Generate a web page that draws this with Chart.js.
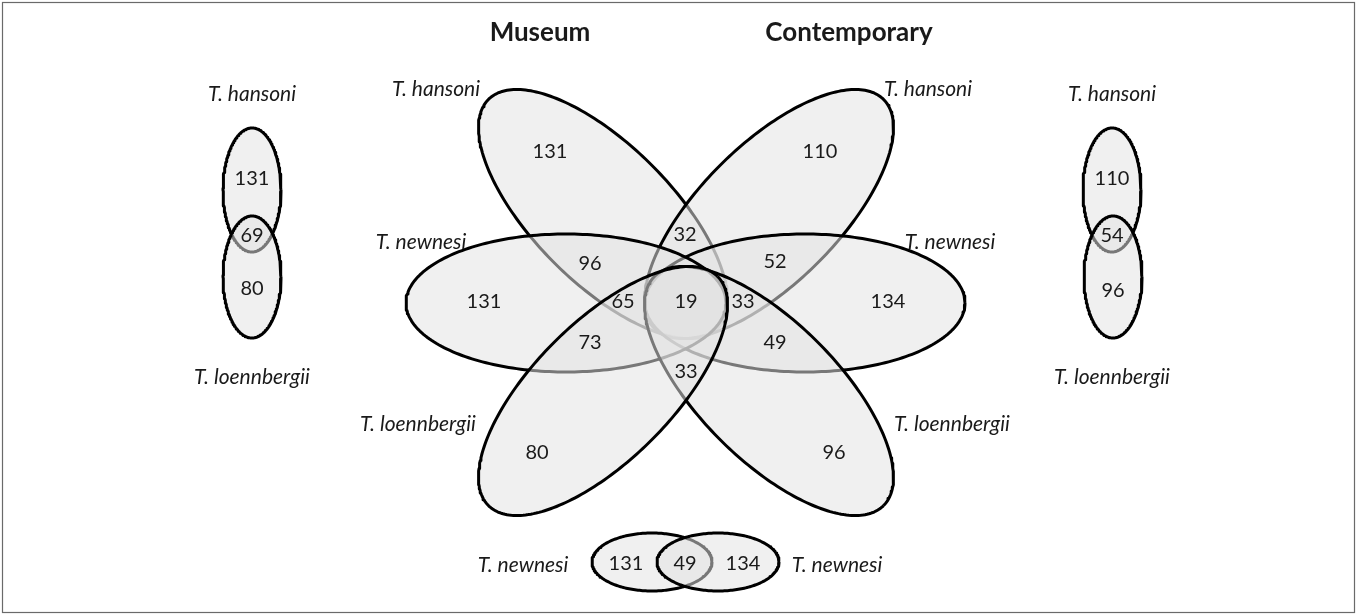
<!DOCTYPE html>
<html>
<head>
<meta charset="utf-8">
<script src="https://cdn.jsdelivr.net/npm/chart.js"></script>
<style>
  html, body { margin: 0; padding: 0; background: #ffffff; }
  #wrap { width: 1357px; height: 615px; }
</style>
</head>
<body>
<div id="wrap"><canvas id="c" width="1357" height="615"></canvas></div>
<script>
// ---------------- DATA ----------------
const groupTitles = ['Museum', 'Contemporary'];
const speciesNames = ['T. hansoni', 'T. newnesi', 'T. loennbergii'];

// central six-set diagram: exclusive counts per region
const museumOnly = [131, 131, 80];        // hansoni, newnesi, loennbergii (Museum)
const contemporaryOnly = [110, 134, 96];  // hansoni, newnesi, loennbergii (Contemporary)
const centralShared = [96, 73, 65, 32, 19, 33, 52, 49, 33];

// pairwise museum vs contemporary diagrams
const museumHansoniLoenn = [131, 69, 80];
const contempHansoniLoenn = [110, 54, 96];
const newnesiMuseumContemp = [131, 49, 134];

// ---------------- LAYOUT (positions / sizes only) ----------------
// ellipses in drawing order (first drawn = bottom)
const ellipseLayout = [
  // left small diagram (Museum hansoni / loennbergii)
  { cx: 252, cy: 190, rx: 29, ry: 62, angle: 0 },
  { cx: 252, cy: 277, rx: 29, ry: 61, angle: 0 },
  // right small diagram (Contemporary hansoni / loennbergii)
  { cx: 1112, cy: 190, rx: 29, ry: 62, angle: 0 },
  { cx: 1113, cy: 277, rx: 29, ry: 61, angle: 0 },
  // bottom small diagram (newnesi Museum / Contemporary)
  { cx: 652, cy: 562, rx: 60, ry: 29, angle: 0 },
  { cx: 718, cy: 562, rx: 61, ry: 29, angle: 0 },
  // central diagram
  { cx: 603, cy: 214, rx: 162, ry: 69, angle: 45 },   // Museum hansoni
  { cx: 769, cy: 214, rx: 162, ry: 69, angle: 135 },  // Contemporary hansoni
  { cx: 805, cy: 303, rx: 160, ry: 69, angle: 0 },    // Contemporary newnesi
  { cx: 566, cy: 303, rx: 160, ry: 69, angle: 0 },    // Museum newnesi
  { cx: 769, cy: 391, rx: 162, ry: 69, angle: 45 },   // Contemporary loennbergii
  { cx: 603, cy: 391, rx: 162, ry: 69, angle: -45 }   // Museum loennbergii
];

const centralOnlyPos = {
  museum: [[550, 152], [484, 302], [537, 453]],
  contemporary: [[820, 152], [888, 302], [834, 453]]
};
const centralSharedPos = [[590, 264], [590, 343], [623, 302], [685, 235], [686, 302], [743, 302], [775, 262], [775, 343], [686, 372]];
const smallLeftPos = [[252, 179], [252, 236], [252, 289]];
const smallRightPos = [[1112, 179], [1112, 236], [1113, 291]];
const smallBottomPos = [[626, 564], [685, 564], [743, 564]];

const titlePos = [[540, 33], [849, 33]];
const nameLabels = [
  // [speciesIndex, x, y]
  [0, 436, 89], [0, 928, 89],
  [1, 421, 242], [1, 950, 242],
  [2, 418, 424], [2, 952, 424],
  [0, 252, 94], [2, 252, 377],
  [0, 1112, 94], [2, 1112, 377],
  [1, 523, 565], [1, 837, 565]
];

// ---------------- BUILD ----------------
function ellipsePoints(e) {
  const pts = [];
  const N = 240;
  const t = e.angle * Math.PI / 180;
  for (let i = 0; i <= N; i++) {
    const p = 2 * Math.PI * i / N;
    const u = e.rx * Math.cos(p), v = e.ry * Math.sin(p);
    pts.push({ x: e.cx + u * Math.cos(t) - v * Math.sin(t), y: e.cy + u * Math.sin(t) + v * Math.cos(t) });
  }
  return pts;
}

const nE = ellipseLayout.length;
const datasets = ellipseLayout.map((e, i) => ({
  data: ellipsePoints(e),
  showLine: true,
  fill: 'shape',
  backgroundColor: 'rgba(226,226,226,0.53)',
  borderColor: '#000000',
  borderWidth: 3,
  borderJoinStyle: 'round',
  pointRadius: 0,
  tension: 0,
  order: nE - i
}));

const textPlugin = {
  id: 'vennText',
  beforeDraw(chart) {
    const ctx = chart.ctx;
    ctx.save();
    ctx.fillStyle = '#ffffff';
    ctx.fillRect(0, 0, chart.width, chart.height);
    ctx.strokeStyle = '#6a6a6a';
    ctx.lineWidth = 1.2;
    ctx.strokeRect(2.5, 2.5, chart.width - 5, chart.height - 5);
    ctx.restore();
  },
  afterDatasetsDraw(chart) {
    const { ctx, scales } = chart;
    const X = v => scales.x.getPixelForValue(v);
    const Y = v => scales.y.getPixelForValue(v);
    ctx.save();
    ctx.textAlign = 'center';
    ctx.textBaseline = 'middle';
    ctx.fillStyle = '#1a1a1a';

    ctx.font = 'bold 26px Lato';
    groupTitles.forEach((t, i) => ctx.fillText(t, X(titlePos[i][0]), Y(titlePos[i][1])));

    ctx.font = 'italic 21px Lato';
    nameLabels.forEach(([s, x, y]) => ctx.fillText(speciesNames[s], X(x), Y(y)));

    ctx.font = '20px Lato';
    const put = (vals, pos) => vals.forEach((v, i) => ctx.fillText(String(v), X(pos[i][0]), Y(pos[i][1])));
    put(museumOnly, centralOnlyPos.museum);
    put(contemporaryOnly, centralOnlyPos.contemporary);
    put(centralShared, centralSharedPos);
    put(museumHansoniLoenn, smallLeftPos);
    put(contempHansoniLoenn, smallRightPos);
    put(newnesiMuseumContemp, smallBottomPos);
    ctx.restore();
  }
};

new Chart(document.getElementById('c'), {
  type: 'scatter',
  data: { datasets },
  options: {
    responsive: false,
    animation: false,
    layout: { padding: 0 },
    plugins: { legend: { display: false }, tooltip: { enabled: false } },
    scales: {
      x: { type: 'linear', min: 0, max: 1357, display: false },
      y: { type: 'linear', min: 0, max: 615, reverse: true, display: false }
    }
  },
  plugins: [textPlugin]
});
</script>
</body>
</html>
